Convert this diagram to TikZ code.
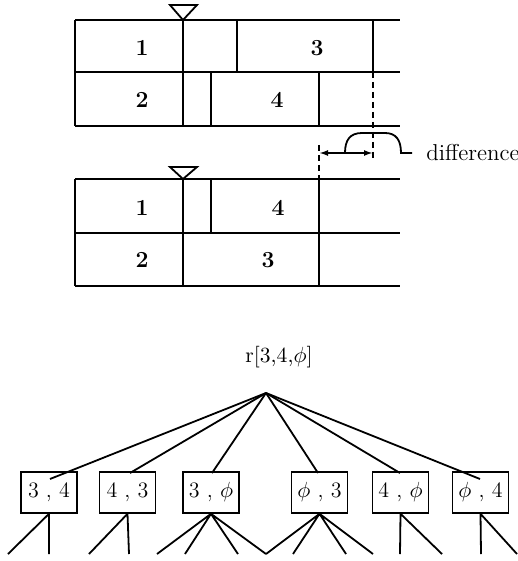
\documentclass[tikz,border=0pt]{standalone}
\usetikzlibrary{arrows.meta}
\begin{document}
\begin{tikzpicture}[x=0.5pt,y=-0.5pt,
  rule/.style={line width=0.9pt},
  guide/.style={line width=0.8pt,dash pattern=on 3pt off 2pt},
  slot/.style={font=\fontsize{11.5}{13}\selectfont\bfseries},
  marker/.style={line width=0.9pt,fill=white},
  pairbox/.style={draw,line width=0.8pt,minimum width=28pt,minimum height=20.5pt,
    inner sep=1pt,font=\fontsize{11}{13}\selectfont},
  branch/.style={line width=0.9pt}]
\useasboundingbox (0,0) rectangle (518,561);

% ---- upper schedule: two rows of slots
\draw[rule] (75,20) -- (400,20) (75,72) -- (400,72) (75,126) -- (400,126);
\draw[rule] (75,20) -- (75,126) (183,20) -- (183,126);
\draw[rule] (237,20) -- (237,72) (373,20) -- (373,72);
\draw[rule] (211,72) -- (211,126) (319,72) -- (319,126);
\draw[marker] (183,20) -- (170,5) -- (197,5) -- cycle;
\node[slot] (u1) at (142,48) {1};
\node[slot] (u3) at (317,48) {3};
\node[slot] (u2) at (142,100) {2};
\node[slot] (u4) at (277,100) {4};

% ---- difference between the two finishing times
\coordinate (da) at (373,72);
\coordinate (db) at (373,160);
\coordinate (dc) at (319,145);
\coordinate (dd) at (319,179);
\draw[guide] (da) -- (db);
\draw[guide] (dc) -- (dd);
\coordinate (al) at (319,153);
\coordinate (ar) at (373,153);
\draw[line width=0.9pt,{Latex[length=4.5pt,width=3pt]}-{Latex[length=4.5pt,width=3pt]}] (al) -- (ar);
\draw[line width=0.9pt] (345,153) .. controls (345,140) and (350,133) .. (362,133)
  -- (385,133) .. controls (396,133) and (401,140) .. (401,153) -- (412,153);
\node[anchor=base west,inner sep=0pt,font=\fontsize{11.5}{13}\selectfont] (diff) at (426,161) {difference};

% ---- lower schedule after the swap
\draw[rule] (75,179) -- (400,179) (75,233) -- (400,233) (75,286) -- (400,286);
\draw[rule] (75,179) -- (75,286) (183,179) -- (183,286) (319,179) -- (319,286);
\draw[rule] (211,179) -- (211,233);
\draw[marker] (183,179) -- (170,167) -- (197,167) -- cycle;
\node[slot] (l1) at (142,208) {1};
\node[slot] (l4) at (278,208) {4};
\node[slot] (l2) at (142,260) {2};
\node[slot] (l3) at (268,260) {3};

% ---- search tree
\node[font=\fontsize{10.8}{13}\selectfont,inner sep=0pt] (root) at (279,357) {r[3,4,$\phi$]};
\coordinate (apex) at (266,393);

\node[pairbox] (b1) at (49,492.5) {3 , 4};
\node[pairbox] (b2) at (127.5,492.5) {4 , 3};
\node[pairbox] (b3) at (211,492.5) {3 , $\phi$};
\node[pairbox] (b4) at (319.5,492.5) {$\phi$ , 3};
\node[pairbox] (b5) at (400.5,492.5) {4 , $\phi$};
\node[pairbox] (b6) at (480.5,492.5) {$\phi$ , 4};

\coordinate (e1) at (50,479);
\coordinate (e2) at (130,473);
\coordinate (e3) at (212,473);
\coordinate (e4) at (318,473);
\coordinate (e5) at (400,473);
\coordinate (e6) at (480,479);
\foreach \k in {1,...,6} \draw[branch] (apex) -- (e\k);

% leaves
\foreach \n/\x in {a/8,b/49,c/89,d/129,e/157,f/185,g/238,h/266,i/293,j/346,k/373,l/400,m/442,n/481,o/517}
  \coordinate (leaf\n) at (\x,554);
\draw[branch] (b1.south) -- (leafa) (b1.south) -- (leafb);
\draw[branch] (b2.south) -- (leafc) (b2.south) -- (leafd);
\draw[branch] (b3.south) -- (leafe) (b3.south) -- (leaff) (b3.south) -- (leafg) (b3.south) -- (leafh);
\draw[branch] (b4.south) -- (leafh) (b4.south) -- (leafi) (b4.south) -- (leafj) (b4.south) -- (leafk);
\draw[branch] (b5.south) -- (leafl) (b5.south) -- (leafm);
\draw[branch] (b6.south) -- (leafn) (b6.south) -- (leafo);
\end{tikzpicture}
\end{document}
